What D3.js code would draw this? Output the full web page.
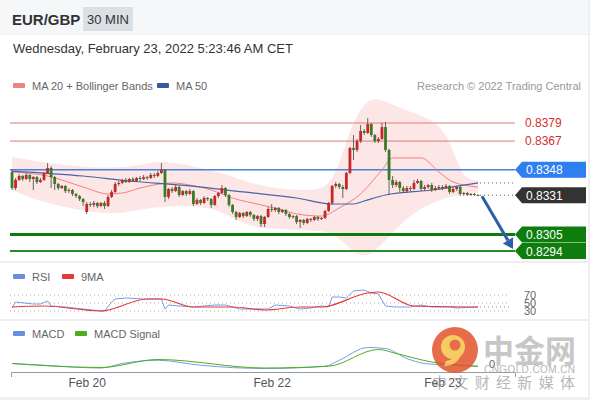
<!DOCTYPE html>
<html><head><meta charset="utf-8">
<script src="https://cdn.jsdelivr.net/npm/d3@7"></script>
<style>body{margin:0;background:#fff;} svg{display:block;font-family:"Liberation Sans",Arial,sans-serif;}</style>
</head><body><svg id="c" width="590" height="400"></svg>
<script>
// ---------- DATA ----------
const opens=[0.83465,0.83358,0.83412,0.83438,0.83418,0.83445,0.83418,0.83431,0.83398,0.83412,
0.83458,0.83491,0.83431,0.83385,0.83358,0.83372,0.83338,0.83345,0.83319,0.83305,
0.83285,0.83199,0.83252,0.83246,0.83259,0.83239,0.83259,0.83239,0.83299,0.83332,
0.83385,0.83392,0.83412,0.83398,0.83418,0.83405,0.83425,0.83418,0.83431,0.83425,
0.83445,0.83438,0.83458,0.83478,0.83299,0.83352,0.83338,0.83365,0.83312,0.83338,
0.83319,0.83338,0.83252,0.83279,0.83259,0.83292,0.83285,0.83246,0.83305,0.83325,
0.83358,0.83312,0.83246,0.83199,0.83166,0.83192,0.83172,0.83199,0.83179,0.83153,
0.83172,0.83119,0.83166,0.83219,0.83212,0.83226,0.83199,0.83212,0.83186,0.83166,
0.83172,0.83133,0.83146,0.83126,0.83153,0.83146,0.83166,0.83153,0.83159,0.83206,
0.83259,0.83372,0.83385,0.83365,0.83352,0.83458,0.83624,0.83611,0.83670,0.83737,
0.83724,0.83783,0.83710,0.83670,0.83684,0.83763,0.83611,0.83412,0.83378,0.83398,
0.83358,0.83338,0.83358,0.83352,0.83392,0.83405,0.83352,0.83365,0.83378,0.83345,
0.83358,0.83365,0.83358,0.83372,0.83332,0.83352,0.83365,0.83319,0.83325,0.83312,
0.83319,0.83312];
const closes=[0.83358,0.83412,0.83438,0.83418,0.83445,0.83418,0.83431,0.83398,0.83412,0.83458,
0.83491,0.83431,0.83385,0.83358,0.83372,0.83338,0.83345,0.83319,0.83305,0.83285,
0.83265,0.83252,0.83246,0.83259,0.83239,0.83259,0.83239,0.83299,0.83332,0.83385,
0.83392,0.83412,0.83398,0.83418,0.83405,0.83425,0.83418,0.83431,0.83425,0.83445,
0.83438,0.83458,0.83478,0.83299,0.83352,0.83338,0.83365,0.83312,0.83338,0.83319,
0.83338,0.83252,0.83279,0.83259,0.83292,0.83285,0.83246,0.83305,0.83325,0.83358,
0.83312,0.83246,0.83199,0.83166,0.83192,0.83172,0.83199,0.83179,0.83153,0.83172,
0.83119,0.83166,0.83219,0.83212,0.83226,0.83199,0.83212,0.83186,0.83166,0.83172,
0.83133,0.83146,0.83126,0.83153,0.83146,0.83166,0.83153,0.83159,0.83206,0.83259,
0.83372,0.83385,0.83365,0.83352,0.83458,0.83624,0.83611,0.83670,0.83737,0.83724,
0.83783,0.83710,0.83670,0.83684,0.83763,0.83611,0.83412,0.83378,0.83398,0.83358,
0.83338,0.83358,0.83352,0.83392,0.83405,0.83352,0.83365,0.83378,0.83345,0.83358,
0.83365,0.83358,0.83372,0.83332,0.83352,0.83365,0.83319,0.83325,0.83312,0.83319,
0.83312,0.83310];
const highs=[0.83478,0.83425,0.83451,0.83445,0.83458,0.83451,0.83438,0.83438,0.83425,0.83465,
0.83524,0.83504,0.83438,0.83392,0.83378,0.83378,0.83358,0.83352,0.83325,0.83312,
0.83292,0.83265,0.83265,0.83272,0.83265,0.83265,0.83272,0.83312,0.83345,0.83398,
0.83405,0.83418,0.83425,0.83425,0.83431,0.83431,0.83438,0.83445,0.83438,0.83458,
0.83458,0.83471,0.83524,0.83484,0.83358,0.83365,0.83378,0.83372,0.83345,0.83345,
0.83352,0.83345,0.83292,0.83285,0.83305,0.83299,0.83292,0.83312,0.83332,0.83378,
0.83365,0.83319,0.83252,0.83206,0.83199,0.83199,0.83206,0.83206,0.83186,0.83179,
0.83179,0.83172,0.83232,0.83252,0.83232,0.83232,0.83219,0.83219,0.83192,0.83179,
0.83179,0.83153,0.83153,0.83159,0.83159,0.83172,0.83172,0.83166,0.83212,0.83265,
0.83378,0.83398,0.83392,0.83378,0.83465,0.83631,0.83710,0.83684,0.83777,0.83750,
0.83823,0.83790,0.83717,0.83697,0.83790,0.83797,0.83618,0.83438,0.83412,0.83405,
0.83372,0.83372,0.83372,0.83412,0.83418,0.83412,0.83378,0.83385,0.83392,0.83372,
0.83378,0.83378,0.83385,0.83378,0.83365,0.83372,0.83372,0.83332,0.83332,0.83325,
0.83325,0.83319];
const lows=[0.83345,0.83345,0.83405,0.83405,0.83412,0.83398,0.83345,0.83385,0.83392,0.83405,
0.83451,0.83358,0.83345,0.83345,0.83352,0.83325,0.83325,0.83305,0.83292,0.83272,
0.83239,0.83186,0.83232,0.83232,0.83226,0.83232,0.83219,0.83232,0.83292,0.83325,
0.83372,0.83385,0.83392,0.83392,0.83398,0.83398,0.83405,0.83412,0.83412,0.83418,
0.83425,0.83431,0.83451,0.83265,0.83285,0.83325,0.83332,0.83299,0.83305,0.83305,
0.83312,0.83239,0.83246,0.83246,0.83252,0.83272,0.83226,0.83239,0.83292,0.83319,
0.83299,0.83232,0.83186,0.83146,0.83159,0.83159,0.83166,0.83166,0.83139,0.83139,
0.83099,0.83099,0.83159,0.83199,0.83199,0.83186,0.83192,0.83172,0.83153,0.83153,
0.83119,0.83093,0.83113,0.83119,0.83133,0.83139,0.83139,0.83146,0.83153,0.83199,
0.83246,0.83358,0.83352,0.83292,0.83345,0.83451,0.83544,0.83598,0.83657,0.83710,
0.83717,0.83697,0.83657,0.83657,0.83677,0.83598,0.83312,0.83358,0.83365,0.83332,
0.83325,0.83325,0.83338,0.83345,0.83385,0.83338,0.83338,0.83352,0.83332,0.83338,
0.83345,0.83345,0.83352,0.83319,0.83325,0.83338,0.83305,0.83305,0.83305,0.83305,
0.83305,0.83305];

// indicator readings [candle index, value]
const ma20=[[0,0.83465],[10,0.83438],[20,0.83365],[27,0.83319],[31,0.83325],[36,0.83358],[45,0.83392],[50,0.83378],[56,0.83345],[62,0.83292],[70,0.83246],[75,0.83219],[80,0.83186],[87,0.83172],[92,0.83226],[98,0.83319],[104,0.83478],[107,0.83558],[115,0.83558],[120,0.83465],[124,0.83398],[131,0.83365]];
const ma50=[[0,0.83471],[20,0.83438],[33,0.83405],[50,0.83372],[65,0.83332],[80,0.83292],[90,0.83252],[96,0.83252],[99,0.83272],[105,0.83312],[118,0.83345],[131,0.83392]];
const bbUpper=[[0,0.83564],[5,0.83544],[12,0.83518],[20,0.83498],[28,0.83491],[35,0.83504],[41,0.83538],[46,0.83524],[52,0.83498],[58,0.83465],[63,0.83425],[68,0.83385],[74,0.83358],[80,0.83345],[86,0.83345],[89,0.83378],[92,0.83511],[95,0.83744],[98,0.83890],[101,0.83956],[104,0.83943],[108,0.83903],[112,0.83863],[117,0.83823],[121,0.83757],[124,0.83611],[126,0.83478],[128,0.83418],[131,0.83405]];
const bbLower=[[0,0.83345],[5,0.83292],[12,0.83246],[20,0.83206],[28,0.83186],[33,0.83199],[40,0.83232],[46,0.83239],[52,0.83239],[58,0.83212],[63,0.83146],[68,0.83099],[74,0.83086],[80,0.83080],[86,0.83073],[90,0.83066],[94,0.82980],[97,0.82914],[100,0.82901],[104,0.82980],[109,0.83113],[114,0.83212],[120,0.83279],[125,0.83312],[131,0.83325]];
const rsi=[[0,37.5],[1,52.5],[6,47.5],[8,47.5],[10,55],[11,42.5],[15,40],[20,35],[25,30],[26,30],[28,52.5],[29,60],[32,62.5],[37,60],[42,60],[43,35],[44,45],[47,42.5],[51,40],[57,45],[60,45],[64,35],[72,35],[74,45],[78,42.5],[81,35],[84,37.5],[87,42.5],[89,40],[90,65],[92,65],[94,62.5],[96,80],[99,82.5],[101,75],[103,72.5],[105,42.5],[108,40],[112,40],[115,45],[118,40],[123,40],[125,37.5],[131,40]];
const rsiMA=[[0,40],[9,42.5],[25,30],[38,60],[42,60],[51,40],[62,40],[71,32.5],[81,40],[87,40],[100,75],[103,77.5],[113,42.5],[131,40]];
const macd=[[0,0.00002],[9,-0.00005],[25,-0.00016],[31,0.00002],[41,0.00015],[53,-0.00005],[71,-0.00018],[88,-0.00009],[92,0.00015],[100,0.00066],[105,0.00062],[111,0.00022],[116,0.00002],[124,-0.00005],[131,-0.00009]];
const macdSignal=[[0,0.00002],[25,-0.00014],[41,0.00018],[71,-0.00016],[89,-0.00009],[103,0.00058],[108,0.00042],[118,0.00008],[131,-0.00009]];

const resistances=[0.8379,0.8367];
const pivot=0.8348;
const lastPrice=0.8331;
const supports=[0.8305,0.8294];
const rsiLevels=[70,50,30];
const tickIndex=[21,73,121];
const tickLabels=["Feb 20","Feb 22","Feb 23"];

// ---------- DRAW ----------
const svg=d3.select("#c");
const fmt=d3.format(".4f");

// page background
svg.append("rect").attr("width",590).attr("height",400).attr("fill","#eef0f2");
svg.append("rect").attr("x",0).attr("y",0).attr("width",588).attr("height",34).attr("fill","#f6f7f8");
svg.append("rect").attr("x",0).attr("y",35).attr("width",588).attr("height",362).attr("fill","#ffffff");
// header
svg.append("text").attr("x",12).attr("y",25).attr("font-size",15).attr("font-weight","bold").attr("fill","#333").text("EUR/GBP");
svg.append("rect").attr("x",83).attr("y",7).attr("width",50).attr("height",24).attr("fill","#dcdfe4");
svg.append("text").attr("x",108).attr("y",24).attr("text-anchor","middle").attr("font-size",13).attr("fill","#333").text("30 MIN");
svg.append("text").attr("x",13).attr("y",53).attr("font-size",13).attr("fill","#333").text("Wednesday, February 23, 2022 5:23:46 AM CET");

// legend
function legend(xp,yp,color,label,size){
  svg.append("rect").attr("x",xp).attr("y",yp-3).attr("width",12).attr("height",5).attr("rx",1).attr("fill",color);
  svg.append("text").attr("x",xp+19).attr("y",yp+4).attr("font-size",size||11).attr("fill","#666").text(label);
}
legend(13,86,"#f08282","MA 20 + Bollinger Bands");
legend(157,86,"#3b5a9a","MA 50");
svg.append("text").attr("x",581).attr("y",90).attr("text-anchor","end").attr("font-size",11).attr("fill","#999").text("Research \u00a9 2022 Trading Central");

// separators
svg.append("rect").attr("x",0).attr("y",261).attr("width",588).attr("height",2).attr("fill","#eceef0");
svg.append("rect").attr("x",0).attr("y",319).attr("width",588).attr("height",2).attr("fill","#eceef0");

const x=d3.scaleLinear().domain([0,131]).range([12,478]);
const y=d3.scaleLinear().domain([0.8294,0.8379]).range([251,123]);

// Bollinger band
const lineB=d3.line().x(d=>x(d[0])).y(d=>y(d[1])).curve(d3.curveBasis);
const up=lineB(bbUpper);
const lo=lineB(bbLower.slice().reverse());
svg.append("path").attr("d",up+"L"+lo.slice(1)+"Z").attr("fill","#fde3e3").attr("opacity",0.9);

// level lines
const X0=10,X1=515;
resistances.forEach(v=>{
  svg.append("line").attr("x1",X0).attr("x2",X1).attr("y1",y(v)).attr("y2",y(v)).attr("stroke","#e07a7a").attr("stroke-width",1);
  svg.append("text").attr("x",525).attr("y",y(v)+4).attr("font-size",12).attr("fill","#d32f2f").text(fmt(v));
});
svg.append("line").attr("x1",X0).attr("x2",X1).attr("y1",y(pivot)).attr("y2",y(pivot)).attr("stroke","#4a7fdc").attr("stroke-width",1.5);
svg.append("line").attr("x1",X0).attr("x2",X1).attr("y1",y(supports[0])).attr("y2",y(supports[0])).attr("stroke","#0f7a0f").attr("stroke-width",3);
svg.append("line").attr("x1",X0).attr("x2",X1).attr("y1",y(supports[1])).attr("y2",y(supports[1])).attr("stroke","#2a8a2a").attr("stroke-width",2);

// MA lines
const lineM=d3.line().x(d=>x(d[0])).y(d=>y(d[1])).curve(d3.curveMonotoneX);
svg.append("path").attr("d",lineM(ma20)).attr("fill","none").attr("stroke","#f08282").attr("stroke-width",1);
svg.append("path").attr("d",lineM(ma50)).attr("fill","none").attr("stroke","#4a64a6").attr("stroke-width",1.2);

// candles
const idx=d3.range(closes.length);
const cg=svg.append("g");
cg.selectAll("line.w").data(idx).join("line")
  .attr("x1",i=>x(i)).attr("x2",i=>x(i)).attr("y1",i=>y(highs[i])).attr("y2",i=>y(lows[i]))
  .attr("stroke","#444").attr("stroke-width",0.8);
cg.selectAll("rect.b").data(idx).join("rect")
  .attr("x",i=>x(i)-1.4).attr("width",2.8)
  .attr("y",i=>y(Math.max(opens[i],closes[i])))
  .attr("height",i=>Math.max(1,Math.abs(y(opens[i])-y(closes[i]))))
  .attr("fill",i=>closes[i]>=opens[i]?"#c62828":"#3d7a27");

// dotted extensions
const lastI=closes.length-1;
[[ma50[ma50.length-1][1]],[closes[lastI]]].forEach(v=>{
  svg.append("line").attr("x1",x(lastI)+2).attr("x2",X1).attr("y1",y(v[0])).attr("y2",y(v[0]))
   .attr("stroke","#666").attr("stroke-width",1).attr("stroke-dasharray","1,3");
});

// label boxes
function box(v,color){
  const yc=y(v);
  svg.append("path").attr("d",`M515,${yc}L522,${yc-8}L586,${yc-8}L586,${yc+8}L522,${yc+8}Z`).attr("fill",color);
  svg.append("text").attr("x",526).attr("y",yc+4.5).attr("font-size",12).attr("fill","#fff").text(fmt(v));
}
box(pivot,"#2f7ff0");
box(lastPrice,"#333333");
box(supports[0],"#0d7d0d");
box(supports[1],"#0d7d0d");

// arrow
const ax0=x(lastI)+4, ay0=y(closes[lastI])+1;
const ax1=513, ay1=y(supports[1])-2;
const ang=Math.atan2(ay1-ay0,ax1-ax0);
const hl=10, hw=6;
const bx=ax1-hl*Math.cos(ang), by=ay1-hl*Math.sin(ang);
svg.append("line").attr("x1",ax0).attr("y1",ay0).attr("x2",bx).attr("y2",by).attr("stroke","#2d5ea8").attr("stroke-width",3);
svg.append("path").attr("d",`M${ax1},${ay1}L${bx+hw*Math.sin(ang)},${by-hw*Math.cos(ang)}L${bx-hw*Math.sin(ang)},${by+hw*Math.cos(ang)}Z`).attr("fill","#2d5ea8");

// RSI panel
legend(13,277,"#6b8fe0","RSI");
legend(62,277,"#e53935","9MA");
const yR=d3.scaleLinear().domain([30,70]).range([311,295]);
rsiLevels.forEach(v=>{
  svg.append("line").attr("x1",10).attr("x2",510).attr("y1",yR(v)).attr("y2",yR(v)).attr("stroke","#aaa").attr("stroke-width",1).attr("stroke-dasharray","1,3");
  svg.append("text").attr("x",524).attr("y",yR(v)+4).attr("font-size",11).attr("fill","#666").text(v);
});
const lineR=d3.line().x(d=>x(d[0])).y(d=>yR(d[1]));
svg.append("path").attr("d",lineR(rsi)).attr("fill","none").attr("stroke","#7b9be6").attr("stroke-width",1);
svg.append("path").attr("d",lineR.curve(d3.curveMonotoneX)(rsiMA)).attr("fill","none").attr("stroke","#e53935").attr("stroke-width",1.2);
svg.append("line").attr("x1",x(lastI)+2).attr("x2",510).attr("y1",yR(rsi[rsi.length-1][1])).attr("y2",yR(rsi[rsi.length-1][1])).attr("stroke","#6b8fe0").attr("stroke-dasharray","1,3");

// MACD panel
legend(13,334,"#6b8fe0","MACD");
legend(75,334,"#4caf1e","MACD Signal");
const yM=d3.scaleLinear().domain([-0.0002,0.0007]).range([369,346.5]);
const lineC=d3.line().x(d=>x(d[0])).y(d=>yM(d[1])).curve(d3.curveMonotoneX);
svg.append("path").attr("d",lineC(macd)).attr("fill","none").attr("stroke","#7b9be6").attr("stroke-width",1);
svg.append("path").attr("d",lineC(macdSignal)).attr("fill","none").attr("stroke","#4caf1e").attr("stroke-width",1);
svg.append("text").attr("x",489).attr("y",yM(0)+4).attr("font-size",11).attr("fill","#666").text("0");

// x axis
const xa=x.copy().domain([x.invert(11),x.invert(515)]).range([11,515]);
const axis=svg.append("g").attr("transform","translate(0,372)")
  .call(d3.axisBottom(xa).tickValues(tickIndex).tickFormat((d,i)=>tickLabels[i]).tickSize(0).tickSizeOuter(5).tickPadding(6));
axis.select(".domain").attr("stroke","#999");
axis.selectAll("text").attr("font-size",12).attr("fill","#555").attr("font-family","Liberation Sans, Arial, sans-serif");

// watermark
const wm=svg.append("g").attr("opacity",0.85);
wm.append("circle").attr("cx",455).attr("cy",350).attr("r",23).attr("fill","#e2532b");
wm.append("circle").attr("cx",453).attr("cy",347).attr("r",12).attr("fill","#f6c24a");
wm.append("circle").attr("cx",455).attr("cy",345).attr("r",5.5).attr("fill","#e2532b");
wm.append("path").attr("d","M462,352 Q458,366 444,366 L446,361 Q455,360 457,350 Z").attr("fill","#f6c24a");
wm.append("text").attr("x",483).attr("y",362).attr("font-size",31).attr("font-weight","bold").attr("font-family","Noto Sans CJK SC").attr("fill","#a9a9a9").attr("opacity",0.75).text("中金网");
wm.append("text").attr("x",484).attr("y",373).attr("font-size",10).attr("fill","#aaa").attr("textLength",91).text("CNGOLD.COM.CN");
wm.append("text").attr("x",432).attr("y",388).attr("font-size",15).attr("font-family","Noto Sans CJK SC").attr("fill","#999").attr("opacity",0.8).attr("textLength",143).text("中文财经新媒体");
</script></body></html>
